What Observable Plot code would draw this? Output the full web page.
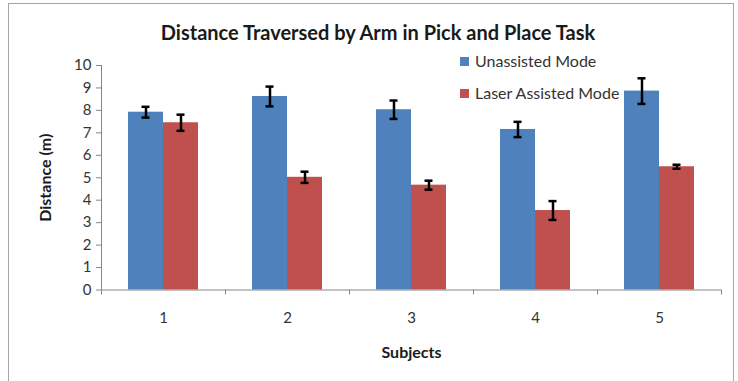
<!DOCTYPE html>
<html><head><meta charset="utf-8">
<script src="https://cdn.jsdelivr.net/npm/d3@7"></script>
<script src="https://cdn.jsdelivr.net/npm/@observablehq/plot@0.6"></script>
<style>
body{margin:0;background:#fff;font-family:Lato,sans-serif;}
#wrap{position:relative;width:738px;height:381px;overflow:hidden;background:#fff;}
#border{position:absolute;left:8px;top:3px;width:726px;height:420px;border:1px solid #a6a6a6;box-sizing:border-box;}
#title{position:absolute;left:0;top:20px;width:756px;text-align:center;font-weight:bold;font-size:20px;line-height:24px;color:#1a1a1a;}
#chart{position:absolute;left:0;top:50px;}
.leg{position:absolute;font-size:16px;color:#333;white-space:nowrap;line-height:18px;}
.sw{display:inline-block;width:9px;height:9px;margin-right:6px;vertical-align:1px;}
</style></head>
<body>
<div id="wrap">
  <div id="border"></div>
  <div id="title">Distance Traversed by Arm in Pick and Place Task</div>
  <div id="chart"></div>
  <div id="legend"></div>
</div>
<script>
const subjects = ["1", "2", "3", "4", "5"];
const seriesNames = ["Unassisted Mode", "Laser Assisted Mode"];
const seriesColors = ["#4F81BD", "#C0504D"];
const unassisted = [7.92, 8.62, 8.03, 7.15, 8.86];
const unassistedErr = [0.24, 0.44, 0.41, 0.34, 0.57];
const laser = [7.45, 5.02, 4.67, 3.54, 5.49];
const laserErr = [0.36, 0.25, 0.20, 0.42, 0.09];
const yTicks = [0, 1, 2, 3, 4, 5, 6, 7, 8, 9, 10];

const data = [];
subjects.forEach((s, i) => {
  data.push({subject: s, series: seriesNames[0], value: unassisted[i], err: unassistedErr[i]});
  data.push({subject: s, series: seriesNames[1], value: laser[i], err: laserErr[i]});
});
const lo = d => d.value - d.err;
const hi = d => d.value + d.err;

const plot = Plot.plot({
  width: 738,
  height: 331,
  marginTop: 15,
  marginBottom: 91.5,
  marginLeft: 100,
  marginRight: 16,
  style: {fontFamily: "Lato, sans-serif", fontSize: "15px", color: "#333", background: "transparent"},
  fx: {domain: subjects, padding: 0},
  x: {domain: seriesNames, paddingInner: 0, paddingOuter: 0.73, axis: null},
  y: {domain: [0, 10]},
  color: {domain: seriesNames, range: seriesColors},
  marks: [
    Plot.barY(data, {fx: "subject", x: "series", y: "value", fill: "series"}),
    Plot.ruleX(data, {fx: "subject", x: "series", y1: lo, y2: hi, stroke: "#000", strokeWidth: 2.5}),
    Plot.tickY(data, {fx: "subject", x: "series", y: lo, stroke: "#000", strokeWidth: 2.5, inset: 13.5}),
    Plot.tickY(data, {fx: "subject", x: "series", y: hi, stroke: "#000", strokeWidth: 2.5, inset: 13.5}),
    Plot.ruleY([0], {stroke: "#868686", strokeWidth: 1}),
    Plot.axisY({ticks: yTicks, tickFormat: d => String(d), tickSize: 5, tickPadding: 5, stroke: "#868686", fontSize: 15,
      label: "Distance (m)", labelAnchor: "center", labelOffset: 62, labelArrow: "none"}),
    Plot.axisFx({anchor: "bottom", tickSize: 0, tickPadding: 22, fontSize: 15, label: "Subjects", labelAnchor: "center", labelOffset: 68, labelArrow: "none"})
  ]
});
document.getElementById("chart").appendChild(plot);

// axis domain lines and boundary ticks from the plot's own scales
const fx = plot.scale("fx"), y = plot.scale("y");
const svg = d3.select(plot);
const g = svg.append("g").attr("stroke", "#868686").attr("stroke-width", 1);
const y0 = y.apply(0), y10 = y.apply(10);
const xLeft = fx.apply(subjects[0]);
g.append("line").attr("x1", xLeft + 0.5).attr("x2", xLeft + 0.5).attr("y1", y10).attr("y2", y0);
const bounds = subjects.map(s => fx.apply(s)).concat([fx.apply(subjects[subjects.length - 1]) + fx.bandwidth]);
bounds.forEach(b => g.append("line").attr("x1", b + 0.5).attr("x2", b + 0.5).attr("y1", y0).attr("y2", y0 + 5));
svg.selectAll('g[aria-label="y-axis label"], g[aria-label="fx-axis label"]')
  .attr("font-weight", "bold").attr("fill", "#1a1a1a");
svg.selectAll('g[aria-label="y-axis label"]').attr("font-size", "16px");
svg.selectAll('g[aria-label="fx-axis label"]').attr("font-size", "16px");

// legend
const leg = document.getElementById("legend");
seriesNames.forEach((n, i) => {
  const el = document.createElement("div");
  el.className = "leg";
  el.style.left = "460px";
  el.style.top = (52 + i * 32) + "px";
  el.innerHTML = `<span class="sw" style="background:${seriesColors[i]}"></span>${n}`;
  leg.appendChild(el);
});
</script>
</body></html>
